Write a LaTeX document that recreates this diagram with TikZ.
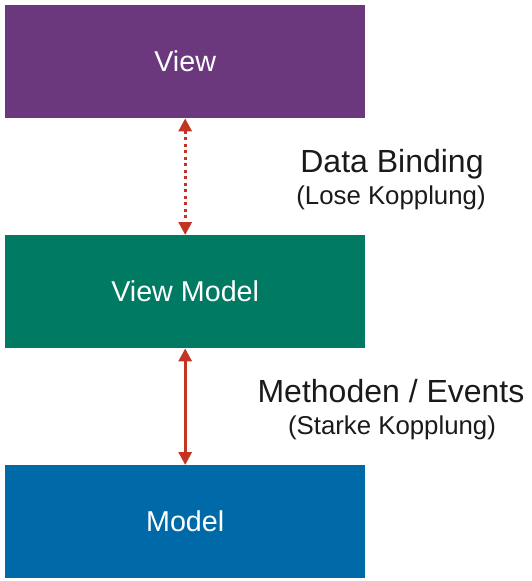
\documentclass[tikz,border=0pt]{standalone}
\usepackage{fontspec}
\setmainfont{Liberation Sans}
\usepackage{tikz}
\usetikzlibrary{arrows.meta}
\definecolor{viewcol}{RGB}{107,56,125}
\definecolor{vmcol}{RGB}{0,122,98}
\definecolor{modelcol}{RGB}{0,105,168}
\definecolor{linkred}{RGB}{196,52,34}
\definecolor{labeltxt}{RGB}{26,26,26}
\tikzset{
	layer/.style={fill=#1,draw=none,text=white,minimum width=360pt,minimum height=113pt,inner sep=0pt,anchor=north west,font=\fontsize{28.7}{30}\selectfont},
	link/.style={linkred,line width=3pt,{Triangle[width=13pt,length=13pt]}-{Triangle[width=13pt,length=13pt]}},
	ttl/.style={anchor=base,text=labeltxt,font=\fontsize{32}{34}\selectfont},
	sub/.style={anchor=base,text=labeltxt,font=\fontsize{25.8}{28}\selectfont}
}
\begin{document}
\begin{tikzpicture}[x=1pt,y=-1pt]
		\useasboundingbox (0,0) rectangle (531,581);
		\node[layer=viewcol] (view) at (5,5) {View};
		\node[layer=vmcol] (viewmodel) at (5,235) {View Model};
		\node[layer=modelcol] (model) at (5,465) {Model};
		\draw[link,dash pattern=on 3pt off 3.5pt] (view.south) -- (viewmodel.north);
		\draw[link] (viewmodel.south) -- (model.north);
		\node[ttl] (binding) at (392,172) {Data Binding};
		\node[sub] (lose) at (391,204) {(Lose Kopplung)};
		\node[ttl] (methods) at (391,402) {Methoden / Events};
		\node[sub] (starke) at (392,434) {(Starke Kopplung)};
		\end{tikzpicture}
\end{document}
